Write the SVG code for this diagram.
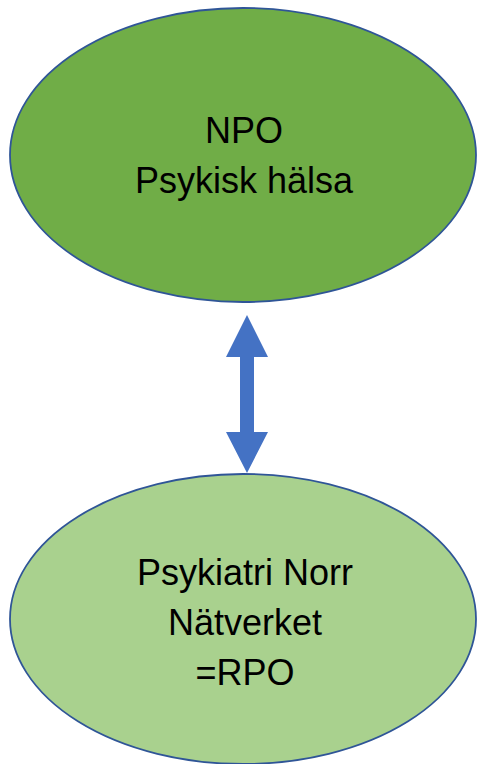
<svg xmlns="http://www.w3.org/2000/svg" width="477" height="764" viewBox="0 0 477 764">
<style>
.node{stroke:#2F5597;stroke-width:1.8}
.lbl{font-family:"Liberation Sans",Arial,sans-serif;font-size:36px;fill:#000;text-anchor:middle}
</style>
<rect width="477" height="764" fill="#fff"/>
<g id="npo">
<ellipse class="node" cx="243" cy="155" rx="233" ry="147" fill="#70AD47"/>
<text class="lbl" x="244" y="143">NPO</text>
<text class="lbl" x="244" y="193">Psykisk hälsa</text>
</g>
<g id="rpo">
<ellipse class="node" cx="243" cy="619" rx="233" ry="145" fill="#A9D18E"/>
<text class="lbl" x="245" y="585">Psykiatri Norr</text>
<text class="lbl" x="245" y="635">Nätverket</text>
<text class="lbl" x="245" y="685">=RPO</text>
</g>
<g id="connectors">
<polygon fill="#4472C4" points="247,315 268,357 254,357 254,432 268,432 247,473 226,432 240,432 240,357 226,357"/>
</g>
</svg>
